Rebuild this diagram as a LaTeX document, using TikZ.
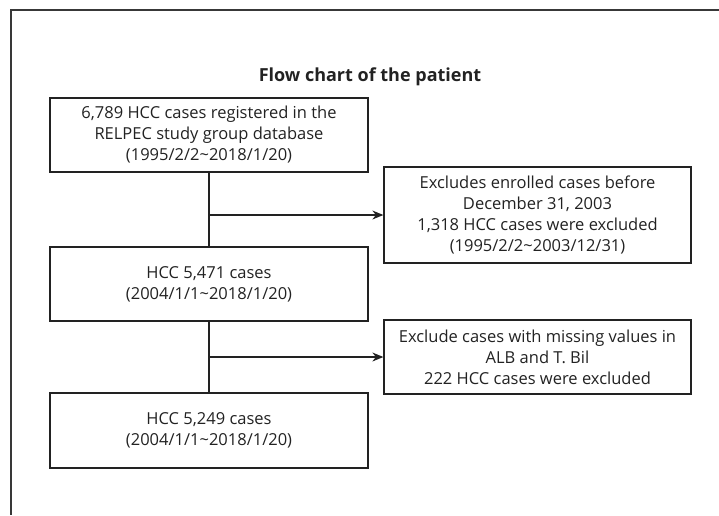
\documentclass[tikz,border=0pt]{standalone}
\usepackage{fontspec}
\setmainfont{Open Sans}
\usetikzlibrary{arrows.meta}
\definecolor{ink}{HTML}{222222}
\begin{document}
\begin{tikzpicture}[x=1pt,y=-1pt,
  box/.style={draw=ink,line width=1.3pt,rectangle,align=center,inner sep=0pt,
    font=\fontsize{16.5}{21}\selectfont,text=ink},
  conn/.style={draw=ink,line width=1.3pt},
  arr/.style={conn,-{Stealth[length=11pt,width=9pt]}}]
\useasboundingbox (0,0) rectangle (719,515);
\draw[draw=ink!90,line width=1.6pt] (719,10) -- (11,10) -- (11,515);
\node[font=\bfseries\fontsize{18}{21}\selectfont,text=ink] (title) at (370,77) {Flow chart of the patient};
\node[box,minimum width=318pt,minimum height=74pt] (b1) at (209,135)
  {6,789 HCC cases registered in the\\RELPEC study group database\\(1995/2/2\textasciitilde 2018/1/20)};
\node[box,minimum width=307pt,minimum height=96pt] (e1) at (537.5,215)
  {Excludes enrolled cases before\\December 31, 2003\\1,318 HCC cases were excluded\\(1995/2/2\textasciitilde 2003/12/31)};
\node[box,minimum width=318pt,minimum height=74pt] (b2) at (209,284)
  {HCC 5,471 cases\\(2004/1/1\textasciitilde 2018/1/20)};
\node[box,minimum width=307pt,minimum height=74pt] (e2) at (537.5,357)
  {Exclude cases with missing values in\\ALB and T. Bil\\222 HCC cases were excluded};
\node[box,minimum width=318pt,minimum height=75pt] (b3) at (209,430.5)
  {HCC 5,249 cases\\(2004/1/1\textasciitilde 2018/1/20)};
\coordinate (j1) at (209,215);
\coordinate (j2) at (209,357);
\draw[conn] (b1.south -| j1) -- (b2.north -| j1);
\draw[conn] (b2.south -| j2) -- (b3.north -| j2);
\draw[arr] (j1) -- (e1.west);
\draw[arr] (j2) -- (e2.west);
\end{tikzpicture}
\end{document}
